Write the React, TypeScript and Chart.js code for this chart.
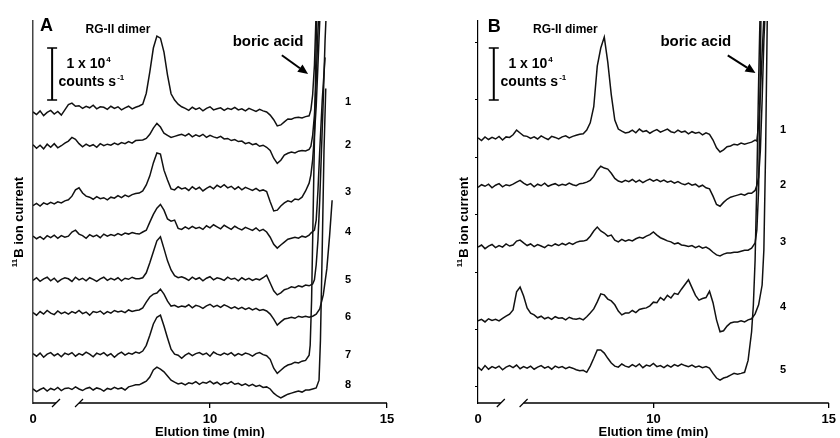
import React, { useEffect, useRef } from "react";
import { Chart, registerables } from "chart.js";

Chart.register(...registerables);

const FONT = "'Liberation Sans', Arial, Helvetica, sans-serif";

// Elution time grid (min); the axis is broken, its first tick (shown as "0") sits at 5 min
const TIME = [
  5.0, 5.1, 5.2, 5.3, 5.4, 5.5, 5.6, 5.7, 5.8, 5.9,
  6.0, 6.1, 6.2, 6.3, 6.4, 6.5, 6.6, 6.7, 6.8, 6.9,
  7.0, 7.1, 7.2, 7.3, 7.4, 7.5, 7.6, 7.7, 7.8, 7.9,
  8.0, 8.1, 8.2, 8.3, 8.4, 8.5, 8.6, 8.7, 8.8, 8.9,
  9.0, 9.1, 9.2, 9.3, 9.4, 9.5, 9.6, 9.7, 9.8, 9.9,
  10.0, 10.1, 10.2, 10.3, 10.4, 10.5, 10.6, 10.7, 10.8, 10.9,
  11.0, 11.1, 11.2, 11.3, 11.4, 11.5, 11.6, 11.7, 11.8, 11.9,
  12.0, 12.1, 12.2, 12.3, 12.4, 12.5, 12.6, 12.7, 12.8,
];

const X_TICKS = [5, 10, 15];
const X_TICK_LABELS = ["0", "10", "15"];
const X_BREAK = [5.65, 6.3];
const Y_MAX = 73.5; // x10^3 counts s-1, stacked display
const B_Y_TICKS = [3.1, 14.2, 25.2, 36.3, 47.3, 58.4, 69.4];

// ---------- Panel A (8 traces), signal in 10^3 counts s-1 ----------
const A_LABELS = ["1", "2", "3", "4", "5", "6", "7", "8"];
const A_OFFSETS = [55.8, 49.4, 38.1, 31.9, 23.7, 17.3, 9.2, 2.5];
const A_LABEL_LEVELS = [57.9, 49.6, 40.6, 32.9, 23.7, 16.5, 9.2, 3.5];

const A1 = [0.2, -0.3, 0.4, -0.5, 0.1, 0.5, -0.2, 0.3, -0.4, 0.6,
  1.6, 1.9, 1.3,
  1.4, 0.9, 1.3, 1.0, 1.5, 0.8, 1.2, 1.1, 0.7, 1.3, 0.9, 1.2, 0.6, 1.0, 1.3, 0.8, 1.1,
  1.35, 1.7, 3.8, 7.9, 12.5, 14.8, 14.4, 11.7, 7.3, 3.7, 2.5, 1.7, 1.2,
  0.9, 0.5, 1.1, 0.7, 1.0, 0.4, 0.9, 1.2, 0.6, 0.8, 1.0, 0.5, 0.9, 0.7, 1.1, 0.6, 0.8, 0.4, 0.9, 0.6, 0.3, 0.7, 0.4, 0.2,
  -0.4, -1.3, -2.5, -2.3, -1.7, -1.15, -1.2, -0.9, -0.8, -0.95, -0.7, -0.55];
const A2 = [0.3, -0.4, 0.2, -0.5, 0.4, -0.2, 0.5, -0.3, 0.1, 0.6,
  1.0, 1.7, 1.35,
  0.5, -0.1, 0.4, 0.0, 0.3, -0.2, 0.5, 0.1, 0.4, 0.2, 0.6, 0.3, 0.7, 0.5, 0.9, 0.6, 1.1,
  1.15, 1.2, 1.5, 2.3, 3.5, 4.4, 3.7, 2.5, 2.1, 1.7, 1.9, 2.1, 2.3,
  2.0, 2.4, 1.8, 2.2, 1.9, 2.3, 1.7, 2.1, 1.8, 1.6, 1.9, 1.4, 1.5, 1.1, 1.3, 0.9, 1.0, 0.5, 0.7, 0.3, 0.5, 0.0, 0.2, -0.2,
  -0.8, -2.3, -3.3, -2.7, -1.7, -1.35, -1.1, -1.3, -0.95, -0.8, -0.9, -0.6];
const A3 = [-0.1, 0.3, -0.2, 0.4, 0.1, 0.5, 0.2, 0.6, 0.4, 0.8,
  1.0, 1.7, 2.9, 3.3, 2.3, 1.7,
  1.5, 1.1, 1.6, 1.2, 1.4, 1.0, 1.5, 1.3, 1.8, 1.4, 1.9, 1.6, 2.0, 2.2,
  2.3, 2.7, 3.85, 5.6, 8.1, 10.0, 9.8, 6.7, 4.8, 3.1, 2.9, 3.5, 3.1,
  3.3, 2.8, 3.5, 3.0, 3.4, 2.7, 3.2, 3.6, 3.1, 3.8, 3.4, 3.9, 3.3, 3.6, 3.0, 3.5, 2.9, 3.4, 3.1, 2.8, 3.2, 2.7, 2.9, 2.6,
  0.6, -1.15, -1.0, -0.2, 0.4, 0.8, 0.6, 1.15, 1.0, 1.5, 2.7, 4.2];
const A4 = [0.2, -0.3, 0.1, -0.4, 0.3, -0.1, 0.4, -0.2, 0.3, 0.0,
  0.2, 1.0, 1.35, 0.6,
  0.3, -0.2, 0.5, 0.1, 0.4, -0.1, 0.6, 0.2, 0.5, 0.3, 0.7, 0.4, 0.8, 0.6, 0.9, 0.7,
  0.6, 1.0, 1.35, 2.9, 4.4, 5.6, 6.3, 5.2, 3.5, 3.1, 3.3, 1.7, 1.5,
  2.0, 1.6, 2.1, 1.7, 1.9, 1.5, 2.2, 1.8, 2.4, 2.0, 1.6, 2.3, 1.9, 1.5, 2.1, 1.7, 1.4, 1.9, 1.6, 1.3, 1.8, 1.2, 1.5, 1.0,
  0.0, -1.35, -2.1, -1.5, -0.95, -0.4, -0.2, 0.0, -0.2, 0.2, 0.0, 0.4];
const A5 = [-0.1, 0.4, -0.3, 0.2, 0.5, -0.2, 0.3, -0.4, 0.1, 0.4,
  0.2, -0.3, 0.5, 0.0, 0.3, -0.2, 0.4, 0.1, -0.3, 0.2, 0.5, -0.1, 0.3, 0.0, 0.4, -0.2, 0.3, 0.1, 0.5, 0.2,
  0.2, 0.4, 1.35, 3.3, 5.4, 7.5, 8.3, 6.0, 3.65, 1.9, 0.8, 0.4, 0.6,
  0.3, -0.1, 0.5, 0.1, 0.4, -0.2, 0.3, 0.6, 0.0, 0.4, 0.2, -0.1, 0.5, 0.1, 0.3, -0.2, 0.4, 0.0, 0.3, -0.1, 0.2, 0.0, 0.4, 0.9,
  -0.6, -2.1, -2.9, -2.5, -1.9, -1.7, -1.35, -1.5, -1.15, -1.35, -1.0, -1.15];
const A6 = [0.1, -0.4, 0.3, -0.2, 0.5, 0.0, -0.3, 0.4, -0.1, 0.2,
  -0.2, 0.3, 0.0, 0.5, -0.1, 0.2, -0.4, 0.3, 0.1, 0.4, -0.2, 0.3, 0.0, 0.5, 0.2, 0.4, 0.1, 0.6, 0.3, 0.5,
  0.6, 1.0, 2.1, 3.1, 3.65, 3.85, 4.6, 3.65, 2.3, 1.35, 1.5, 1.15, 1.35,
  1.2, 1.6, 1.0, 1.5, 1.3, 0.9, 1.4, 1.7, 1.2, 1.5, 1.1, 1.6, 1.3, 0.9, 1.2, 0.8, 1.1, 0.7, 1.0, 0.6, 0.9, 0.5, 0.7, 0.4,
  -0.2, -1.15, -2.3, -1.7, -1.15, -1.0, -0.8, -1.0, -0.6, -0.8, -0.6, -0.8];
const A7 = [0.3, -0.2, 0.4, -0.4, 0.2, 0.5, -0.1, 0.3, -0.3, 0.4,
  0.1, 0.5, -0.2, 0.3, 0.0, 0.6, 0.2, -0.3, 0.4, 0.1, 0.5, -0.1, 0.3, -0.4, 0.2, 0.6, 0.0, 0.4, 0.2, 0.6,
  0.4, 0.8, 1.9, 3.85, 6.0, 7.3, 7.7, 5.6, 3.3, 1.15, 0.2, 0.0, -0.6,
  0.0, 0.4, -0.1, 0.3, 0.5, 0.1, 0.4, -0.2, 0.6, 0.2, 0.0, 0.4, 0.1, 0.5, -0.1, 0.3, 0.0, 0.4, 0.2, -0.2, 0.3, 0.5, 0.1, -0.1,
  -0.8, -2.5, -3.5, -2.9, -2.3, -1.9, -1.7, -1.35, -1.5, -1.15, -1.0, 0.0];
const A8 = [0.2, -0.3, 0.1, 0.4, -0.2, 0.3, 0.0, 0.5, -0.1, 0.3,
  0.4, 0.1, 0.6, 0.2, -0.1, 0.3, 0.5, 0.0, 0.4, 0.2, -0.2, 0.3, 0.1, 0.5, 0.2, 0.4, 0.0, 0.6, 0.8, 1.0,
  1.0, 1.35, 1.7, 2.5, 3.85, 4.4, 4.0, 3.5, 2.7, 1.9, 1.5, 1.15, 1.35,
  1.0, 1.4, 1.2, 1.6, 1.1, 1.5, 1.3, 1.7, 1.2, 1.5, 1.0, 1.4, 1.2, 1.6, 1.1, 1.3, 0.9, 1.2, 0.8, 1.1, 0.7, 0.9, 0.5, 0.6,
  0.2, -0.6, -1.15, -1.5, -1.15, -0.8, -0.6, -0.4, -0.2, -0.4, 0.0, 0.0];

// boric acid front: [time, signal]
const A1_TAIL = [[12.85, 0.6], [12.9, 3.5], [12.95, 9.2], [13.0, 19.8], [13.03, 26]];
const A2_TAIL = [[12.85, 0.0], [12.9, 2.1], [12.95, 6.0], [13.0, 12.7], [13.05, 22.3], [13.09, 28]];
const A3_TAIL = [[12.85, 5.8], [12.9, 8.7], [12.95, 13.5], [13.0, 19.0], [13.05, 27.0], [13.11, 37.0]];
const A4_TAIL = [[12.85, 0.8], [12.95, 1.35], [13.0, 3.3], [13.05, 9.0], [13.1, 16.7], [13.17, 26.3], [13.25, 34.6]];
const A5_TAIL = [[12.9, -0.8], [12.95, 0.0], [13.0, 2.9], [13.05, 7.7], [13.1, 15.4], [13.15, 25.0], [13.2, 34.6], [13.25, 46.0], [13.3, 54.0]];
const A6_TAIL = [[12.9, -0.6], [13.0, -0.2], [13.1, 0.8], [13.2, 3.5], [13.3, 8.5], [13.38, 15.0], [13.45, 21.7]];
const A7_TAIL = [[12.83, 1.9], [12.87, 10.6], [12.92, 29.8], [12.97, 49.0], [13.02, 68.0]];
const A8_TAIL = [[12.9, 0.2], [13.0, 0.4], [13.08, 1.9], [13.12, 9.6], [13.17, 27.0], [13.22, 46.0], [13.27, 58.0]];

// ---------- Panel B (5 traces) ----------
const B_LABELS = ["1", "2", "3", "4", "5"];
const B_OFFSETS = [50.8, 41.7, 30.0, 15.8, 6.7];
const B_LABEL_LEVELS = [52.5, 41.9, 31.0, 18.5, 6.3];

const B1 = [0.2, -0.3, 0.4, -0.1, 0.3, 0.0, 0.5, -0.2, 0.4, 0.3,
  0.8, 1.7, 1.15, 0.6,
  0.5, 0.1, 0.4, 0.0, 0.6, 0.2, -0.1, 0.5, 0.3, 0.0, 0.4, 0.6, 0.2, 0.5, 0.7, 0.9,
  1.0, 1.7, 3.1, 6.2, 14.0, 17.5, 19.6, 14.8, 8.5, 3.65, 1.9, 1.5, 1.15,
  1.3, 1.7, 1.2, 1.9, 1.4, 1.6, 1.1, 1.5, 1.8, 1.3, 1.6, 1.9, 1.4, 1.2, 1.7, 1.3, 1.5, 1.0, 1.4, 1.1, 1.3, 0.8, 1.2, 0.9,
  -0.2, -1.7, -2.5, -2.1, -1.5, -1.35, -1.0, -1.15, -0.8, -1.0, -0.8, -0.6];
const B2 = [-0.2, 0.3, 0.0, 0.4, -0.3, 0.2, 0.5, -0.1, 0.3, 0.1,
  0.4, 0.8, 1.15, 0.6,
  0.2, 0.5, -0.1, 0.4, 0.1, 0.6, 0.0, 0.3, 0.5, 0.1, 0.4, 0.2, 0.6, 0.3, 0.1, 0.5,
  0.6, 0.8, 1.15, 1.9, 3.1, 3.85, 3.5, 3.3, 2.5, 1.5, 1.0, 0.8, 1.15,
  0.9, 1.3, 0.8, 1.2, 0.7, 1.1, 1.4, 1.0, 1.3, 0.9, 1.2, 0.8, 1.0, 0.6, 0.9, 0.5, 0.3, 0.6, 0.2, 0.4, -0.1, 0.2, -0.3, -0.5,
  -1.9, -3.5, -3.85, -3.1, -2.5, -2.1, -1.9, -1.7, -1.5, -1.7, -1.35, -1.35];
const B3 = [0.0, 0.4, -0.3, 0.2, 0.5, -0.1, 0.3, 0.0, 0.6, 0.2,
  0.4, 1.15, 1.35, 0.8,
  0.3, 0.6, 0.1, 0.5, 0.2, -0.1, 0.4, 0.2, 0.6, 0.3, 0.7, 0.4, 0.8, 0.5, 0.9, 1.1,
  1.15, 1.35, 2.1, 3.1, 3.85, 3.1, 2.7, 2.1, 2.3, 1.35, 1.0, 1.5, 1.15,
  1.4, 1.2, 1.6, 1.9, 1.7, 2.1, 2.4, 2.9, 2.3, 1.8, 1.5, 1.2, 1.0, 0.6, 0.8, 0.4, 0.3, 0.1, 0.3, -0.1, 0.2, -0.2, 0.0, -0.4,
  -1.0, -1.5, -1.7, -1.35, -1.15, -1.15, -1.0, -1.0, -0.8, -0.6, -0.6, -0.2];
const B4 = [0.0, 0.3, -0.2, 0.4, 0.1, 0.3, 0.0, 0.5, 0.9, 1.3,
  2.1, 5.6, 6.5, 4.8, 2.5, 1.5, 1.15,
  0.6, 0.9, 0.4, 0.7, 0.3, 0.8, 0.5, 0.6, 0.2, 0.7, 0.4, 0.3, 0.5,
  0.2, 0.8, 1.5, 2.3, 3.65, 5.2, 5.0, 4.2, 3.85, 3.1, 1.9, 1.15, 1.5,
  1.5, 2.0, 1.6, 2.2, 2.4, 2.5, 2.9, 3.6, 3.5, 4.5, 4.0, 4.9, 4.4, 5.3, 5.1, 6.1, 7.0, 7.9, 6.4, 4.9, 4.0, 4.3, 4.5, 5.7,
  3.5, 0.2, -2.1, -1.9, -1.0, -0.4, -0.2, -0.2, 0.0, -0.2, 0.2, 0.4];
const B5 = [0.2, -0.4, 0.5, -0.2, 0.3, 0.0, 0.4, -0.3, 0.2, 0.5,
  0.1, 0.6, -0.1, 0.3, 0.0, 0.4, -0.2, 0.2, 0.5, 0.0, 0.3, -0.2, 0.4, 0.1, 0.3, -0.1, 0.2, 0.0, -0.3, -0.5,
  -0.4, -0.8, 0.4, 1.9, 3.5, 3.5, 2.9, 1.9, 1.0, 0.4, 0.2, 0.8, 0.4,
  0.2, 0.7, 0.3, 0.8, 0.1, 0.6, 0.4, 0.9, 0.3, 0.5, 0.1, 0.6, 0.2, 0.7, 0.4, 0.8, 0.5, 0.3, 0.6, 0.2, 0.4, 0.1, 0.3, 0.0,
  -1.0, -1.9, -2.3, -1.9, -1.7, -1.35, -1.0, -1.15, -1.0, -0.8, 1.5, 7.0];

const B1_TAIL = [[12.9, -0.2], [12.95, -0.4], [13.0, 2.7], [13.05, 8.5], [13.1, 16.5], [13.16, 24.8]];
const B2_TAIL = [[12.9, -0.8], [12.95, 0.2], [13.0, 1.7], [13.05, 6.9], [13.1, 16.5], [13.15, 28.0], [13.2, 35.8]];
const B3_TAIL = [[12.9, 0.8], [12.95, 3.3], [13.0, 11.0], [13.03, 24.4], [13.07, 46.0]];
const B4_TAIL = [[12.9, 1.35], [13.0, 3.1], [13.1, 6.9], [13.15, 13.7], [13.2, 32.9], [13.25, 60.0]];
const B5_TAIL = [[12.85, 12.1], [12.9, 20.8], [12.95, 36.0], [13.0, 55.0], [13.05, 70.8]];

const A_SIGNALS = [A1, A2, A3, A4, A5, A6, A7, A8];
const A_TAILS = [A1_TAIL, A2_TAIL, A3_TAIL, A4_TAIL, A5_TAIL, A6_TAIL, A7_TAIL, A8_TAIL];
const B_SIGNALS = [B1, B2, B3, B4, B5];
const B_TAILS = [B1_TAIL, B2_TAIL, B3_TAIL, B4_TAIL, B5_TAIL];

// annotation anchors in data units (time, value)
const A_ANNO = {
  letter: "A", letterAt: [5.2, 71.6], dimerAt: [7.4, 71.15],
  barT: 5.54, barLo: 58.3, barHi: 68.3,
  scaleT1: 6.57, scaleT2: 6.65, scaleV1: 64.4, scaleV2: 61.0,
  boricAt: [11.64, 68.6], arrowFrom: [12.03, 66.9], arrowTo: [12.77, 63.3],
  labelT: 13.9, labels: A_LABELS, labelLevels: A_LABEL_LEVELS, yTitleV: 34.8,
};
const B_ANNO = {
  letter: "B", letterAt: [5.28, 71.3], dimerAt: [7.49, 71.15],
  barT: 5.45, barLo: 58.3, barHi: 68.3,
  scaleT1: 6.5, scaleT2: 6.58, scaleV1: 64.4, scaleV2: 61.0,
  boricAt: [11.21, 68.6], arrowFrom: [12.12, 66.9], arrowTo: [12.91, 63.5],
  labelT: 13.7, labels: B_LABELS, labelLevels: B_LABEL_LEVELS, yTitleV: 34.8,
};

function buildDatasets(offsets: number[], signals: number[][], tails: number[][][]) {
  return signals.map((sig, k) => {
    const off = offsets[k];
    const pts = TIME.map((t, i) => ({ x: t, y: off + sig[i] }));
    tails[k].forEach(([t, s]) => pts.push({ x: t, y: off + s }));
    return {
      data: pts,
      borderColor: "#111",
      borderWidth: 1.5,
      pointRadius: 0,
      fill: false,
      tension: 0,
    };
  });
}

function drawSup(ctx: CanvasRenderingContext2D, pre: string, base: string, sup: string, cx: number, baseline: number, size: number) {
  const small = Math.round(size * 0.6);
  ctx.font = `bold ${small}px ${FONT}`;
  const wp = pre ? ctx.measureText(pre).width : 0;
  const ws = sup ? ctx.measureText(sup).width : 0;
  ctx.font = `bold ${size}px ${FONT}`;
  const wb = ctx.measureText(base).width;
  const total = wp + wb + ws + (pre ? 1 : 0) + (sup ? 1 : 0);
  let x = cx - total / 2;
  ctx.textAlign = "left";
  ctx.textBaseline = "alphabetic";
  if (pre) {
    ctx.font = `bold ${small}px ${FONT}`;
    ctx.fillText(pre, x, baseline - size * 0.42);
    x += wp + 1;
  }
  ctx.font = `bold ${size}px ${FONT}`;
  ctx.fillText(base, x, baseline);
  x += wb + 1;
  if (sup) {
    ctx.font = `bold ${small}px ${FONT}`;
    ctx.fillText(sup, x, baseline - size * 0.42);
  }
}

function makeAnnoPlugin(a: any) {
  return {
    id: "panelAnno",
    afterDraw(chart: any) {
      const ctx: CanvasRenderingContext2D = chart.ctx;
      const xs = chart.scales.x;
      const ys = chart.scales.y;
      const ca = chart.chartArea;
      const X = (t: number) => xs.getPixelForValue(t);
      const Y = (v: number) => ys.getPixelForValue(v);
      ctx.save();
      ctx.fillStyle = "#000";
      ctx.strokeStyle = "#000";

      // broken x axis
      const yb = ca.bottom;
      ctx.lineWidth = 1.4;
      ctx.beginPath();
      ctx.moveTo(ca.left, yb);
      ctx.lineTo(X(X_BREAK[0]), yb);
      ctx.moveTo(X(X_BREAK[1]), yb);
      ctx.lineTo(ca.right, yb);
      ctx.stroke();
      ctx.lineWidth = 1.2;
      X_BREAK.forEach((b) => {
        const cx = X(b);
        ctx.beginPath();
        ctx.moveTo(cx - 4, yb + 4);
        ctx.lineTo(cx + 4, yb - 4);
        ctx.stroke();
      });

      // panel letter
      ctx.font = `bold 18px ${FONT}`;
      ctx.textAlign = "left";
      ctx.textBaseline = "alphabetic";
      ctx.fillText(a.letter, X(a.letterAt[0]), Y(a.letterAt[1]));

      // RG-II dimer
      ctx.font = `bold 12px ${FONT}`;
      ctx.textAlign = "center";
      ctx.fillText("RG-II dimer", X(a.dimerAt[0]), Y(a.dimerAt[1]));

      // scale bar
      const bx = X(a.barT);
      const by1 = Y(a.barLo);
      const by2 = Y(a.barHi);
      ctx.lineWidth = 2;
      ctx.beginPath();
      ctx.moveTo(bx, by1);
      ctx.lineTo(bx, by2);
      ctx.stroke();
      ctx.lineWidth = 1.6;
      ctx.beginPath();
      ctx.moveTo(bx - 5, by1);
      ctx.lineTo(bx + 5, by1);
      ctx.moveTo(bx - 5, by2);
      ctx.lineTo(bx + 5, by2);
      ctx.stroke();
      drawSup(ctx, "", "1 x 10", "4", X(a.scaleT1), Y(a.scaleV1), 14);
      drawSup(ctx, "", "counts s", "-1", X(a.scaleT2), Y(a.scaleV2), 14);

      // boric acid + arrow
      ctx.font = `bold 15px ${FONT}`;
      ctx.textAlign = "center";
      ctx.textBaseline = "alphabetic";
      ctx.fillText("boric acid", X(a.boricAt[0]), Y(a.boricAt[1]));
      const x1 = X(a.arrowFrom[0]), y1 = Y(a.arrowFrom[1]);
      const x2 = X(a.arrowTo[0]), y2 = Y(a.arrowTo[1]);
      const ang = Math.atan2(y2 - y1, x2 - x1);
      const hl = 10, hw = 4.5;
      const hx = x2 - hl * Math.cos(ang), hy = y2 - hl * Math.sin(ang);
      ctx.lineWidth = 2;
      ctx.beginPath();
      ctx.moveTo(x1, y1);
      ctx.lineTo(hx, hy);
      ctx.stroke();
      ctx.beginPath();
      ctx.moveTo(x2, y2);
      ctx.lineTo(hx + hw * Math.sin(ang), hy - hw * Math.cos(ang));
      ctx.lineTo(hx - hw * Math.sin(ang), hy + hw * Math.cos(ang));
      ctx.closePath();
      ctx.fill();

      // trace labels
      ctx.font = `bold 11px ${FONT}`;
      ctx.textAlign = "center";
      ctx.textBaseline = "middle";
      a.labels.forEach((lab: string, i: number) => {
        ctx.fillText(lab, X(a.labelT), Y(a.labelLevels[i]));
      });

      // y-axis title
      ctx.save();
      ctx.translate(ca.left - 15, Y(a.yTitleV));
      ctx.rotate(-Math.PI / 2);
      drawSup(ctx, "11", "B ion current", "", 0, 4.5, 13);
      ctx.restore();

      ctx.restore();
    },
  };
}

function makeConfig(datasets: any[], anno: any, leftW: number, rightPad: number, isB: boolean) {
  return {
    type: "line",
    data: { datasets },
    options: {
      animation: false,
      responsive: false,
      maintainAspectRatio: false,
      events: [],
      layout: { padding: { top: 21, right: rightPad, left: 0, bottom: 0 } },
      plugins: { legend: { display: false }, tooltip: { enabled: false }, title: { display: false } },
      elements: { point: { radius: 0 }, line: { tension: 0 } },
      scales: {
        x: {
          type: "linear",
          min: 5,
          max: 15,
          afterBuildTicks: (s: any) => {
            s.ticks = X_TICKS.map((v) => ({ value: v }));
          },
          afterFit: (s: any) => {
            s.height = 35;
          },
          ticks: {
            autoSkip: false,
            maxRotation: 0,
            padding: 4,
            color: "#000",
            font: { family: FONT, size: 13, weight: "bold" },
            callback: (v: number) => X_TICK_LABELS[X_TICKS.indexOf(v)] ?? "",
          },
          grid: {
            drawOnChartArea: false,
            drawTicks: true,
            tickLength: 5,
            lineWidth: 1.3,
            color: (c: any) => (c.tick && c.tick.value === 5 ? "rgba(0,0,0,0)" : "#000"),
          },
          border: { display: false },
          title: {
            display: true,
            text: "Elution time (min)",
            color: "#000",
            font: { family: FONT, size: 13, weight: "bold", lineHeight: 1 },
            padding: { top: 0, bottom: -1 },
          },
        },
        y: {
          type: "linear",
          min: 0,
          max: Y_MAX,
          afterBuildTicks: (s: any) => {
            s.ticks = (isB ? B_Y_TICKS : [0, Y_MAX]).map((v) => ({ value: v }));
          },
          afterFit: (s: any) => {
            s.width = leftW;
          },
          ticks: { display: false },
          grid: {
            drawOnChartArea: false,
            drawTicks: isB,
            tickLength: 3,
            lineWidth: 1,
            color: "#000",
          },
          border: isB
            ? { display: true, color: "#000", width: 1.2 }
            : { display: true, color: "#444", width: 1.5, dash: [1, 1] },
          title: { display: false },
        },
      },
    },
    plugins: [makeAnnoPlugin(anno)],
  };
}

export default function App() {
  const refA = useRef<HTMLCanvasElement | null>(null);
  const refB = useRef<HTMLCanvasElement | null>(null);

  useEffect(() => {
    const charts: Chart[] = [];
    if (refA.current) {
      charts.push(
        new Chart(refA.current, makeConfig(buildDatasets(A_OFFSETS, A_SIGNALS, A_TAILS), A_ANNO, 33, 33, false) as any)
      );
    }
    if (refB.current) {
      charts.push(
        new Chart(refB.current, makeConfig(buildDatasets(B_OFFSETS, B_SIGNALS, B_TAILS), B_ANNO, 58, 8, true) as any)
      );
    }
    return () => charts.forEach((c) => c.destroy());
  }, []);

  return (
    <div style={{ position: "fixed", left: 0, top: 0, width: 840, height: 438, background: "#fff" }}>
      <canvas ref={refA} width={420} height={438} style={{ position: "absolute", left: 0, top: 0, width: 420, height: 438 }} />
      <canvas ref={refB} width={420} height={438} style={{ position: "absolute", left: 420, top: 0, width: 420, height: 438 }} />
    </div>
  );
}
